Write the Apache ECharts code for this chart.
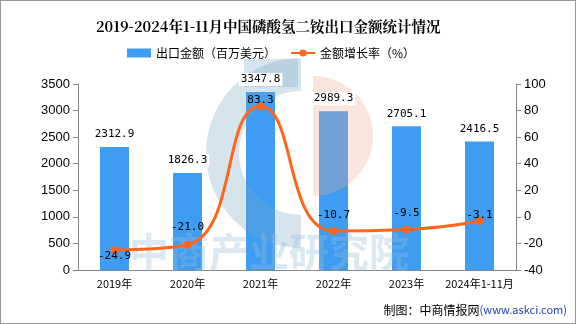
<!DOCTYPE html>
<html><head><meta charset="utf-8">
<script src="https://cdn.jsdelivr.net/npm/echarts@6/dist/echarts.min.js"></script>
<style>html,body{margin:0;padding:0;background:#fff}#c{width:576px;height:324px;box-sizing:border-box;border:1px solid #999}</style>
</head><body><div id="c"></div>
<script>
var categories = ['2019年','2020年','2021年','2022年','2023年','2024年1-11月'];
var exportValue = [2312.9, 1826.3, 3347.8, 2989.3, 2705.1, 2416.5];
var growthRate = [-24.9, -21.0, 83.3, -10.7, -9.5, -3.1];
var leftTicks = [0, 3500, 500];
var rightTicks = [-40, 100, 20];
var rateLabelOffsets = [[0,6],[0,-18],[0,-6],[0,-16],[0,-16],[0,-6]];

var chart = echarts.init(document.getElementById('c'));
var font = '"Noto Sans CJK SC", sans-serif';
var numLabel = {fontSize: 11, color: '#000', fontFamily: '"DejaVu Sans Mono",monospace',
  formatter: function(p){return p.value.toFixed(1);}};
chart.setOption({
  animation: false,
  title: {text: '2019-2024年1-11月中国磷酸氢二铵出口金额统计情况', left: 90, top: 13,
    textStyle: {fontSize: 14.5, fontWeight: 'bold', color: '#000', fontFamily: '"Noto Serif CJK SC","Noto Sans CJK SC",serif'}},
  legend: {top: 41, left: 121, itemWidth: 24, itemHeight: 9, itemGap: 14,
    textStyle: {fontSize: 12, color: '#000', fontFamily: font},
    data: [{name: '出口金额（百万美元）', icon: 'rect'}, {name: '金额增长率（%）'}]},
  grid: {left: 77, right: 59, top: 83, bottom: 53},
  graphic: [
    {type: 'sector', shape: {cx: 300, cy: 152, r: 95, r0: 62, startAngle: Math.PI / 2, endAngle: Math.PI * 1.5}, style: {fill: 'rgba(120,165,200,0.3)'}, z: 1, silent: true},
    {type: 'rect', shape: {x: 243, y: 58, width: 54, height: 28}, style: {fill: 'rgba(120,165,200,0.3)'}, z: 1, silent: true},
    {type: 'sector', shape: {cx: 312, cy: 135, r: 60, r0: 0, startAngle: -Math.PI / 2, endAngle: Math.PI / 2}, style: {fill: 'rgba(240,170,140,0.3)'}, z: 1, silent: true},
    {type: 'text', left: 128, top: 231, style: {text: '中商产业研究院', fontSize: 40, fontWeight: 'bold', fill: 'rgba(150,190,215,0.35)', fontFamily: font}, z: 1, silent: true},
    {type: 'text', right: 8, top: 303, style: {rich: {a: {fontSize: 12, fill: '#000', fontFamily: font}, b: {fontSize: 11, fill: '#1a3fb5', fontFamily: font}}, text: '{a|制图：中商情报网}{b|(www.askci.com)}'}}
  ],
  xAxis: {type: 'category', data: categories, boundaryGap: true,
    axisLine: {lineStyle: {color: '#888'}}, axisTick: {lineStyle: {color: '#888'}},
    axisLabel: {interval: 0, fontSize: 11, color: '#000', fontFamily: font, margin: 8}},
  yAxis: [
    {type: 'value', min: leftTicks[0], max: leftTicks[1], interval: leftTicks[2], splitLine: {show: false},
      axisLine: {show: true, lineStyle: {color: '#888'}}, axisTick: {show: true, lineStyle: {color: '#888'}},
      axisLabel: {fontSize: 13, color: '#000', fontFamily: '"Liberation Sans",sans-serif', formatter: function(v){return String(v);}}},
    {type: 'value', min: rightTicks[0], max: rightTicks[1], interval: rightTicks[2], splitLine: {show: false},
      axisLine: {show: true, lineStyle: {color: '#888'}}, axisTick: {show: true, lineStyle: {color: '#888'}},
      axisLabel: {fontSize: 13, color: '#000', fontFamily: '"Liberation Sans",sans-serif'}}
  ],
  series: [
    {name: '出口金额（百万美元）', type: 'bar', z: 0, data: exportValue, barWidth: 29, itemStyle: {color: '#3e9cf2'}},
    {name: 'barLabels', type: 'bar', z: 4, data: exportValue, barWidth: 29, barGap: '-100%', silent: true,
      itemStyle: {color: 'rgba(0,0,0,0)'},
      label: Object.assign({show: true, position: 'top', distance: 6, backgroundColor: '#fff', padding: [1, 2]}, numLabel)},
    {name: '金额增长率（%）', type: 'line', z: 5, yAxisIndex: 1, smooth: 0.5, symbol: 'circle', symbolSize: 8,
      itemStyle: {color: '#ff661c'}, lineStyle: {width: 3, color: '#ff661c'},
      data: growthRate.map(function(v, i){return {value: v, label: {offset: rateLabelOffsets[i]}};}),
      label: Object.assign({show: true, position: 'inside'}, numLabel)}
  ]
});
</script></body></html>
